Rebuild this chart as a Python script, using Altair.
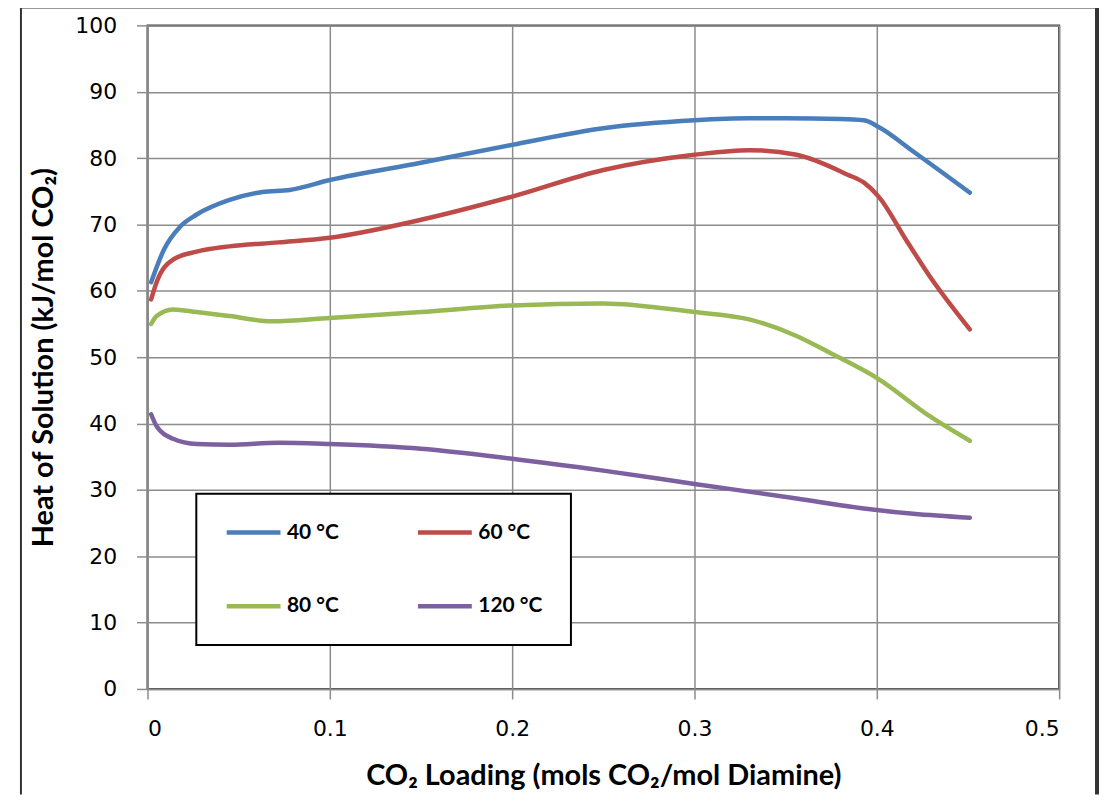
import altair as alt
import pandas as pd

series = ["40 °C", "60 °C", "80 °C", "120 °C"]
colors = ["#4a7ebb", "#be4b48", "#98b954", "#7d60a0"]

x40 = [0.002, 0.009, 0.018, 0.027, 0.045, 0.063, 0.078, 0.1, 0.15, 0.2, 0.25, 0.3, 0.33, 0.35, 0.38, 0.393, 0.401, 0.42, 0.451]
y40 = [61.3, 66.2, 69.7, 71.5, 73.7, 74.9, 75.2, 76.7, 79.3, 82.0, 84.5, 85.7, 86.0, 86.0, 85.9, 85.7, 84.7, 81.0, 74.8]

x60 = [0.002, 0.005, 0.014, 0.027, 0.045, 0.072, 0.1, 0.15, 0.2, 0.25, 0.3, 0.33, 0.356, 0.384, 0.393, 0.401, 0.416, 0.429, 0.451]
y60 = [58.7, 61.3, 64.7, 65.9, 66.7, 67.3, 68.0, 70.7, 74.2, 78.2, 80.5, 81.2, 80.5, 77.5, 76.3, 74.2, 67.7, 62.2, 54.2]

x80 = [0.002, 0.005, 0.014, 0.027, 0.045, 0.068, 0.1, 0.15, 0.2, 0.25, 0.3, 0.33, 0.356, 0.374, 0.401, 0.429, 0.451]
y80 = [55.0, 56.2, 57.2, 56.8, 56.2, 55.4, 55.9, 56.8, 57.8, 58.1, 56.8, 55.7, 53.2, 50.7, 46.7, 41.1, 37.4]

x120 = [0.002, 0.005, 0.014, 0.027, 0.045, 0.072, 0.1, 0.15, 0.2, 0.25, 0.3, 0.356, 0.393, 0.42, 0.451]
y120 = [41.4, 39.6, 37.7, 36.9, 36.8, 37.1, 36.9, 36.2, 34.7, 32.9, 30.9, 28.7, 27.2, 26.4, 25.8]

rows = []
for name, xs, ys in zip(series, [x40, x60, x80, x120], [y40, y60, y80, y120]):
    for xv, yv in zip(xs, ys):
        rows.append({"series": name, "x": xv, "y": yv})
df = pd.DataFrame(rows)

lines = alt.Chart(df).mark_line(strokeWidth=4.5, interpolate="monotone", strokeCap="round").encode(
    x=alt.X("x:Q", scale=alt.Scale(domain=[0, 0.5], nice=False),
            axis=alt.Axis(values=[0, 0.1, 0.2, 0.3, 0.4, 0.5], format="~g",
                          title="CO₂ Loading (mols CO₂/mol Diamine)")),
    y=alt.Y("y:Q", scale=alt.Scale(domain=[0, 100], nice=False),
            axis=alt.Axis(values=list(range(0, 101, 10)),
                          title="Heat of Solution (kJ/mol CO₂)")),
    color=alt.Color("series:N", sort=series,
                    scale=alt.Scale(domain=series, range=colors),
                    legend=alt.Legend(title=None, orient="none", legendX=49, legendY=470,
                                      columns=2, direction="horizontal",
                                      symbolType="stroke", symbolSize=2916,
                                      symbolStrokeWidth=4.5, clipHeight=22,
                                      labelFont="Lato", labelFontWeight="bold",
                                      labelFontSize=21, labelColor="#000000", labelLimit=200,
                                      columnPadding=76, rowPadding=52, padding=28,
                                      labelOffset=4,
                                      strokeColor="#000000", fillColor="#ffffff")),
)

frame_df = pd.DataFrame({"k": [0]})
frame = alt.Chart(frame_df)
left_edge = frame.mark_rule(color="#333333", strokeWidth=2).encode(
    x=alt.value(-127), y=alt.value(-18), y2=alt.value(772))
top_edge = frame.mark_rule(color="#333333", strokeWidth=2).encode(
    x=alt.value(-127), x2=alt.value(953), y=alt.value(-18))
right_edge = frame.mark_rule(color="#333333", strokeWidth=4).encode(
    x=alt.value(953), y=alt.value(-18), y2=alt.value(772))

chart = alt.layer(lines, left_edge, top_edge, right_edge).properties(
    width=915, height=666, padding={"left": 12, "top": -4, "right": 0, "bottom": 0})

chart = chart.configure_view(stroke="#404040", strokeWidth=2).configure_legend(
    strokeWidth=2).configure_axis(
    grid=True, gridColor="#8c8c8c", gridWidth=1.5,
    domainColor="#8c8c8c", domainWidth=1.5,
    tickColor="#8c8c8c", tickWidth=1.5,
    labelFont="DejaVu Sans", labelFontSize=22, labelColor="#000000",
    titleFont="Lato", titleFontWeight="bold", titleFontSize=29, titleColor="#000000",
).configure_axisY(titlePadding=16, tickSize=11, labelPadding=20).configure_axisX(
    titlePadding=22, tickSize=10, labelPadding=20)

chart.save("out.html", embed_options={"renderer": "svg", "actions": False})
